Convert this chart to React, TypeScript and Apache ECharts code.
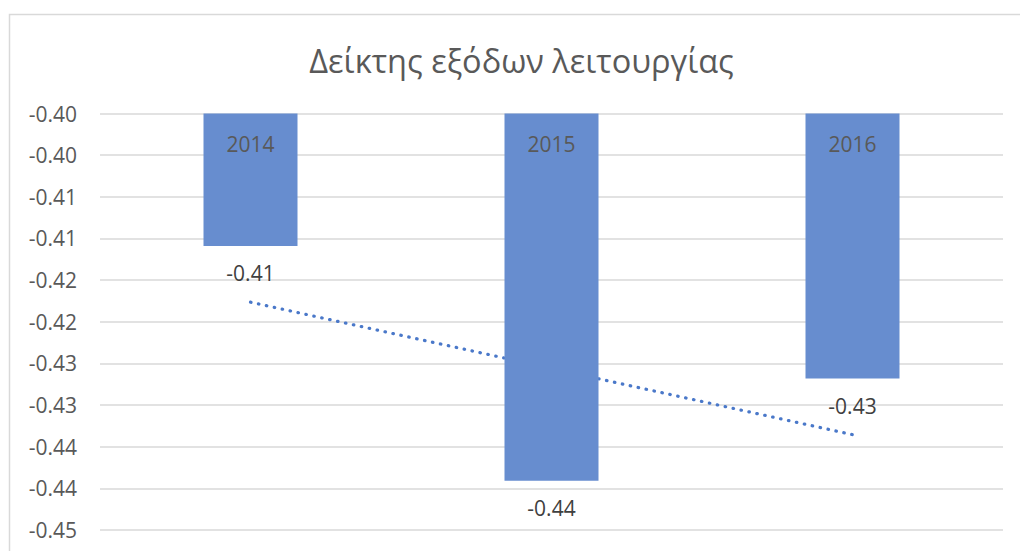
import React, { useEffect, useRef } from "react";
import * as echarts from "echarts";

const titleText = "Δείκτης εξόδων λειτουργίας";
const categories = ["2014", "2015", "2016"];
const values = [-0.4159, -0.4441, -0.4318];
const valueLabels = ["-0.41", "-0.44", "-0.43"];
const yMin = -0.45;
const yMax = -0.4;
const yInterval = 0.005;
const tickLabels = ["-0.45", "-0.44", "-0.44", "-0.43", "-0.43", "-0.42", "-0.42", "-0.41", "-0.41", "-0.40", "-0.40"];

// Linear trendline (least squares) computed from the bar values, as the spreadsheet does
function linearTrend(ys: number[]): number[] {
  const n = ys.length;
  const xs = ys.map((_, i) => i + 1);
  const mx = xs.reduce((a, b) => a + b, 0) / n;
  const my = ys.reduce((a, b) => a + b, 0) / n;
  let sxy = 0;
  let sxx = 0;
  for (let i = 0; i < n; i++) {
    sxy += (xs[i] - mx) * (ys[i] - my);
    sxx += (xs[i] - mx) * (xs[i] - mx);
  }
  const slope = sxy / sxx;
  return xs.map((x) => my + slope * (x - mx));
}

const FONT = "'Open Sans', 'Noto Sans', sans-serif";

export default function App() {
  const ref = useRef<HTMLDivElement>(null);

  useEffect(() => {
    if (!ref.current) return;
    const chart = echarts.init(ref.current, undefined, { renderer: "svg" });
    const trend = linearTrend(values);
    chart.setOption({
      animation: false,
      backgroundColor: "#ffffff",
      textStyle: { fontFamily: FONT },
      graphic: [
        {
          type: "rect",
          shape: { x: 9.5, y: 14.5, width: 1100, height: 600 },
          style: { fill: "none", stroke: "#d9d9d9", lineWidth: 1.5 },
          silent: true,
          z: -10,
        },
        {
          type: "text",
          x: 521.5,
          y: 60,
          style: {
            text: titleText,
            fill: "#595959",
            font: `32.5px ${FONT}`,
            align: "center",
            verticalAlign: "middle",
          },
        },
      ],
      grid: { left: 100, right: 17, top: 113.5, bottom: 21, containLabel: false },
      xAxis: {
        type: "category",
        data: categories,
        position: "top",
        z: 10,
        axisLine: { show: false },
        axisTick: { show: false },
        splitLine: { show: false },
        axisLabel: {
          inside: true,
          margin: 20,
          color: "#595959",
          fontSize: 21,
          fontFamily: FONT,
        },
      },
      yAxis: {
        type: "value",
        min: yMin,
        max: yMax,
        interval: yInterval,
        axisLine: { show: false },
        axisTick: { show: false },
        splitLine: { lineStyle: { color: "#d9d9d9", width: 1.5 } },
        axisLabel: {
          margin: 23,
          color: "#595959",
          fontSize: 21,
          fontFamily: FONT,
          formatter: (v: number) => tickLabels[Math.round((v - yMin) / yInterval)] ?? "",
        },
      },
      series: [
        {
          type: "line",
          data: trend,
          z: 1,
          showSymbol: false,
          symbol: "none",
          silent: true,
          lineStyle: { color: "#4a78c9", width: 3.2, type: [0.5, 7.6], cap: "round" },
        },
        {
          type: "bar",
          data: values,
          z: 2,
          barWidth: 94,
          clip: true,
          itemStyle: { color: "#678dcf" },
          label: {
            show: true,
            position: "bottom",
            distance: 17,
            color: "#404040",
            fontSize: 21,
            fontFamily: FONT,
            formatter: (p: any) => valueLabels[p.dataIndex],
          },
        },
      ],
    });
    return () => chart.dispose();
  }, []);

  return (
    <div
      ref={ref}
      style={{ position: "absolute", left: 0, top: 0, width: 1020, height: 551, background: "#fff" }}
    />
  );
}
